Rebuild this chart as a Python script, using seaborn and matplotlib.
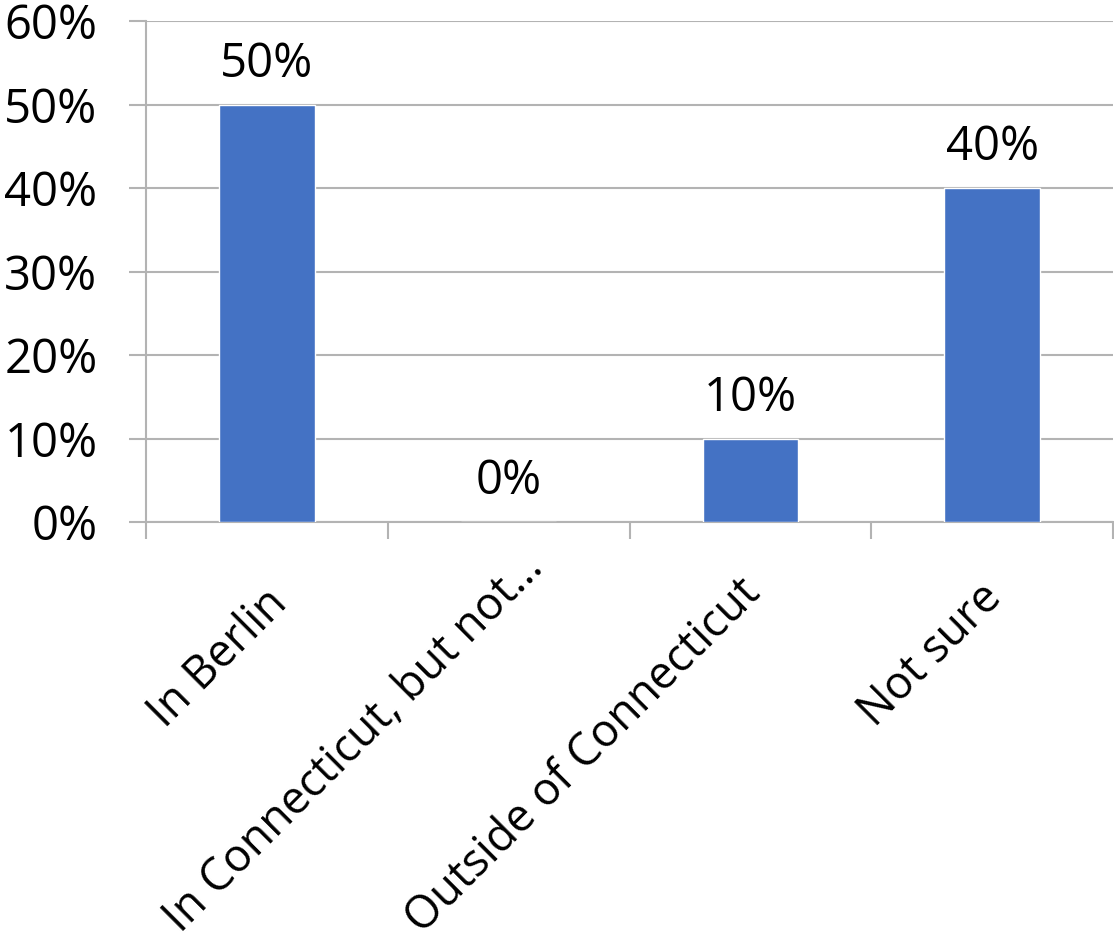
import matplotlib
matplotlib.use("Agg")
import matplotlib.pyplot as plt
from matplotlib.transforms import ScaledTranslation
import seaborn as sns
import pandas as pd
import numpy as np

# Survey responses: where the respondent expects to be
categories = ["In Berlin", "In Connecticut, but not\u2026", "Outside of Connecticut", "Not sure"]
shares = [50, 0, 10, 40]
y_ticks = [0, 10, 20, 30, 40, 50, 60]

df = pd.DataFrame({"category": categories, "share": shares})

sns.set_theme(style="white")
plt.rcParams["font.family"] = ["Open Sans", "DejaVu Sans"]

BAR = "#4472C4"
GRID = "#B3B3B3"
FS = 34
FS_CAT = 32.5
DPI = 100

fig = plt.figure(figsize=(11.14, 9.41), dpi=DPI)
ax = fig.add_axes([146 / 1114, 1 - 522 / 941, (1113 - 146) / 1114, (522 - 21) / 941])

sns.barplot(data=df, x="category", y="share", color=BAR, width=0.395,
            saturation=1, ax=ax, zorder=3)

ax.set_xlim(-0.5, len(categories) - 0.5)
ax.set_ylim(0, 60)
ax.set_yticks(y_ticks)
ax.set_yticklabels([f"{v}%" for v in y_ticks], fontsize=FS, color="black")
ax.yaxis.grid(True, color=GRID, linewidth=1.5, zorder=0)
ax.set_xlabel("")
ax.set_ylabel("")

for side in ["top", "right"]:
    ax.spines[side].set_visible(False)
for side in ["left", "bottom"]:
    ax.spines[side].set_color(GRID)
    ax.spines[side].set_linewidth(1.5)

ax.tick_params(axis="y", direction="out", length=12, width=1.5, color=GRID, pad=23, left=True)

# category boundary ticks below the axis
ax.set_xticks(np.arange(-0.5, len(categories)), minor=True)
ax.tick_params(axis="x", which="minor", direction="out", length=12, width=1.5, color=GRID, bottom=True)
ax.tick_params(axis="x", which="major", length=0, pad=0)
ax.set_xticks(range(len(categories)))
ax.set_xticklabels(categories, rotation=45, ha="right", va="baseline",
                   rotation_mode="anchor", fontsize=FS_CAT, color="black")

# shift each slanted label so its baseline end sits just below its category
label_shift_px = [(22, 83), (36, 48), (12, 73), (11, 78)]
for lab, (dx, dy) in zip(ax.get_xticklabels(), label_shift_px):
    lab.set_transform(lab.get_transform() +
                      ScaledTranslation(dx / DPI, -dy / DPI, fig.dpi_scale_trans))

# value labels above each bar
for i, v in enumerate(shares):
    ax.annotate(f"{v}%", (i, v), xytext=(0, 12), textcoords="offset points",
                ha="center", va="bottom", fontsize=FS, color="black")

fig.savefig("out.png", dpi=DPI, facecolor="white")
